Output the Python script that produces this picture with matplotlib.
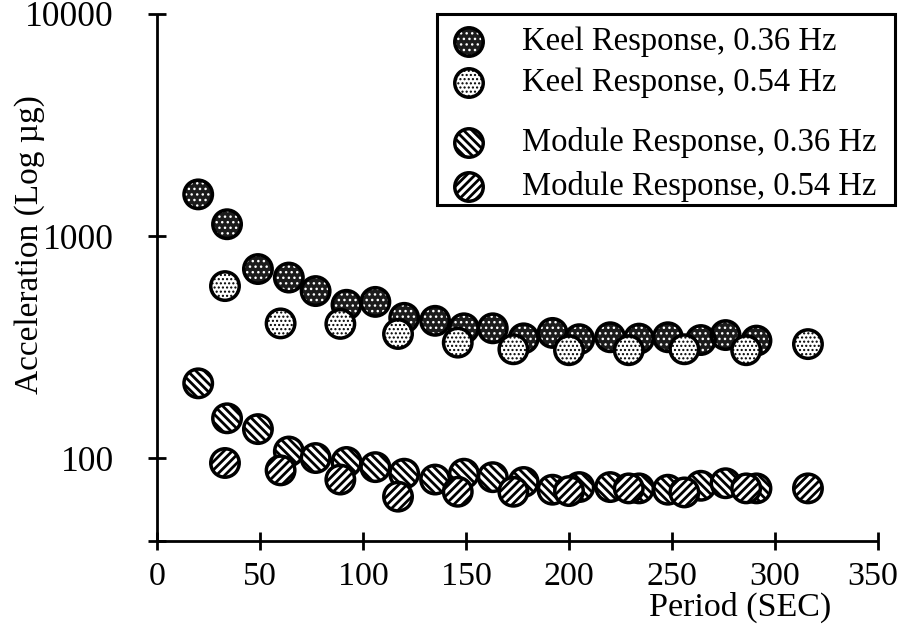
import matplotlib
matplotlib.use("Agg")
import matplotlib.pyplot as plt
from matplotlib.patches import Rectangle
from matplotlib.ticker import FixedLocator, NullLocator
from matplotlib.transforms import ScaledTranslation

# ---------- Data ----------
# Sample period (s) for the two excitation frequencies
period_036 = [20, 34, 49, 64, 77, 92, 106, 120, 135, 149, 163, 178, 192, 205,
              220, 234, 248, 264, 276, 291]
period_054 = [33, 60, 89, 117, 146, 173, 200, 229, 256, 286, 316]

# Acceleration (micro-g)
keel_036 = [1540, 1130, 710, 650, 565, 490, 505, 428, 415, 384, 384, 346, 366,
            343, 350, 345, 350, 340, 358, 338]
keel_054 = [595, 404, 402, 362, 331, 309, 306, 306, 309, 306, 326]
module_036 = [217, 151, 135, 107, 100, 96, 91, 85, 80, 85, 82, 78, 72, 74, 74,
              73, 72, 75, 77, 73]
module_054 = [95, 88, 80, 67, 70.5, 70.5, 71, 73, 70, 73, 73]

labels = ["Keel Response, 0.36 Hz", "Keel Response, 0.54 Hz",
          "Module Response, 0.36 Hz", "Module Response, 0.54 Hz"]

y_ticks = [100, 1000, 10000]
y_tick_labels = ["100", "1000", "10000"]
x_ticks = [0, 50, 100, 150, 200, 250, 300, 350]

# ---------- Style ----------
FONT = "Liberation Serif"
plt.rcParams["font.family"] = [FONT, "DejaVu Serif"]
plt.rcParams["font.size"] = 24

W, H = 900, 626
fig = plt.figure(figsize=(W / 100, H / 100), dpi=100)
ax = fig.add_axes([157 / W, 1 - 541 / H, (878 - 157) / W, (541 - 14) / H])

Y_LO, Y_HI = 42.3, 10000
MS = 420        # marker area (pt^2)
EDGE = 2.5      # marker outline width


def draw_series(target, xs, ys, style, z, **kw):
    """Circle markers: halftone dots or diagonal stripes with a heavy rim."""
    if style == "dark":
        with plt.rc_context({"hatch.linewidth": 1.0}):
            target.scatter(xs, ys, s=MS, facecolor="#1c1c1c", edgecolor="white",
                           hatch="...", linewidths=0, zorder=z, **kw)
        target.scatter(xs, ys, s=MS, facecolor="none", edgecolor="black",
                       linewidths=EDGE, zorder=z + 0.1, **kw)
    elif style == "light":
        with plt.rc_context({"hatch.linewidth": 1.0}):
            target.scatter(xs, ys, s=MS, facecolor="white", edgecolor="black",
                           hatch="....", linewidths=EDGE, zorder=z, **kw)
    else:
        with plt.rc_context({"hatch.linewidth": 2.0}):
            target.scatter(xs, ys, s=MS, facecolor="white", edgecolor="black",
                           hatch=style, linewidths=EDGE, zorder=z, **kw)


styles = ["dark", "light", "\\\\\\\\", "////"]
series = [(period_036, keel_036), (period_054, keel_054),
          (period_036, module_036), (period_054, module_054)]

for i, ((xs, ys), st) in enumerate(zip(series, styles)):
    draw_series(ax, xs, ys, st, 3 + i)

# ---------- Axes ----------
ax.set_yscale("log")
ax.set_xlim(0, 350)
ax.set_ylim(Y_LO, Y_HI)
ax.yaxis.set_major_locator(FixedLocator([Y_LO] + y_ticks))
ax.yaxis.set_minor_locator(NullLocator())
ax.set_yticklabels([""] + y_tick_labels)
ax.set_xticks(x_ticks)
ax.set_xticklabels([str(t) for t in x_ticks])

for side in ["top", "right"]:
    ax.spines[side].set_visible(False)
for side in ["left", "bottom"]:
    ax.spines[side].set_linewidth(2.0)
    ax.spines[side].set_capstyle("butt")

ax.tick_params(axis="both", which="major", direction="inout", length=13,
               width=2.0)
ax.tick_params(axis="y", pad=24.5, labelsize=25.5)
ax.tick_params(axis="x", pad=8, labelsize=24.5)

# keep the last x label inside the canvas
last = ax.xaxis.get_major_ticks()[-1].label1
last.set_transform(last.get_transform()
                   + ScaledTranslation(-0.05, 0, fig.dpi_scale_trans))

fig.text(30 / W, 1 - 245 / H, "Acceleration (Log µg)", rotation=90,
         ha="center", va="center", fontsize=24)
fig.text(740 / W, 1 - 607 / H, "Period (SEC)", ha="center", va="center",
         fontsize=24.5)

# ---------- Legend box ----------
ft = fig.transFigure
box = Rectangle((437 / W, 1 - 205 / H), (895 - 437) / W, (205 - 14) / H,
                transform=ft, facecolor="white", edgecolor="black",
                linewidth=2.2, zorder=20, clip_on=False)
ax.add_patch(box)

row_y = [42, 83, 143, 187]
for lab, st, ry in zip(labels, styles, row_y):
    yf = 1 - ry / H
    draw_series(ax, [469 / W], [yf], st, 21, transform=ft, clip_on=False)
    ax.text(522 / W, yf, lab, transform=ft, ha="left", va="center",
            fontsize=23.5, zorder=22, clip_on=False)

fig.savefig("out.png", dpi=100)
